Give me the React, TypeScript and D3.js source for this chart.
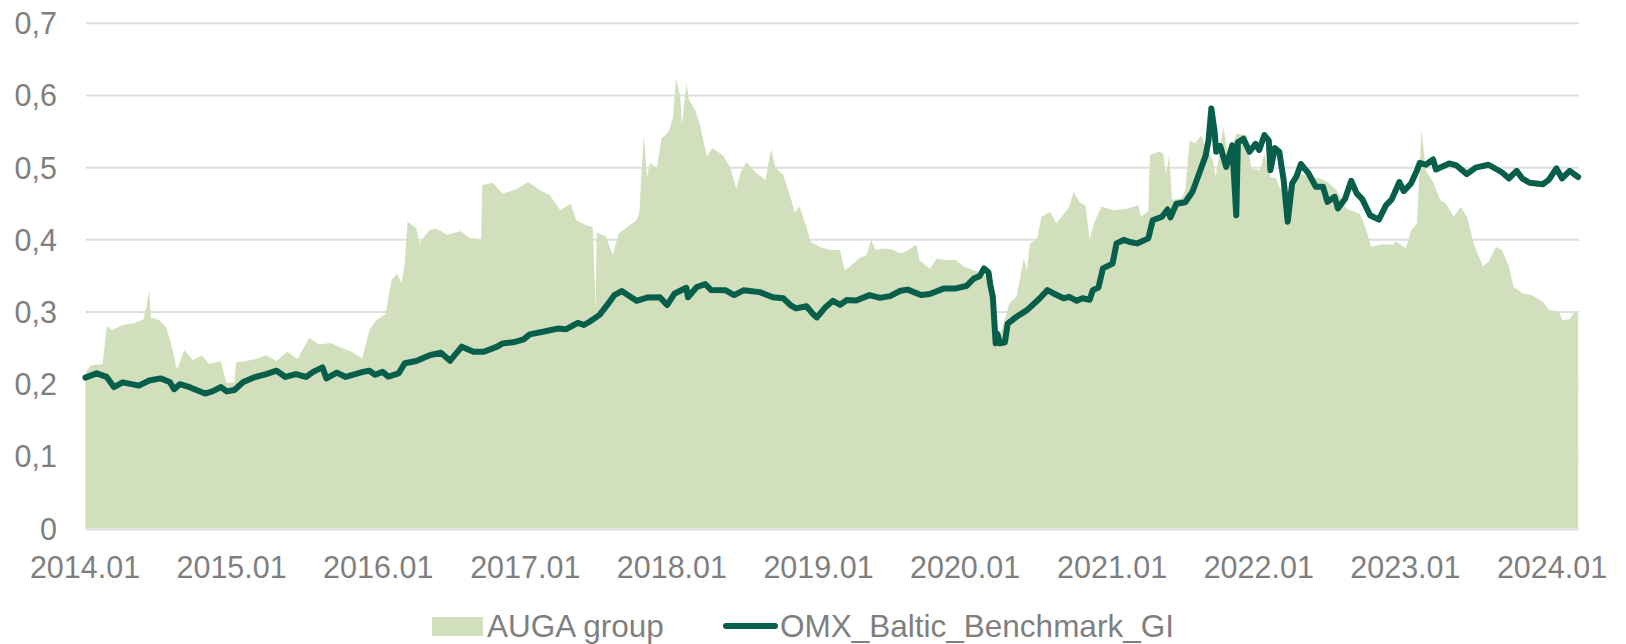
import React, { useEffect, useRef } from 'react'
import * as d3 from 'd3'

// AUGA group share price (area)
const augaDates = [
  '2014-01-02', '2014-01-15', '2014-02-14', '2014-02-24', '2014-03-10', '2014-04-05', '2014-05-01', '2014-05-27',
  '2014-06-10', '2014-06-14', '2014-07-05', '2014-07-23', '2014-08-07', '2014-08-18', '2014-09-05', '2014-09-27',
  '2014-10-19', '2014-11-06', '2014-12-05', '2014-12-19', '2015-01-08', '2015-01-12', '2015-02-06', '2015-03-03',
  '2015-03-28', '2015-04-23', '2015-05-19', '2015-06-14', '2015-07-13', '2015-08-07', '2015-09-06', '2015-10-02',
  '2015-10-27', '2015-11-22', '2015-12-10', '2015-12-28', '2016-01-19', '2016-02-03', '2016-02-17', '2016-02-28',
  '2016-03-07', '2016-03-14', '2016-04-05', '2016-04-12', '2016-05-08', '2016-05-26', '2016-06-21', '2016-07-24',
  '2016-08-15', '2016-09-13', '2016-09-16', '2016-10-12', '2016-11-06', '2016-12-09', '2017-01-08', '2017-02-06',
  '2017-03-03', '2017-03-29', '2017-04-24', '2017-05-08', '2017-06-03', '2017-06-18', '2017-06-25', '2017-06-28',
  '2017-07-20', '2017-08-07', '2017-08-22', '2017-09-13', '2017-10-05', '2017-10-12', '2017-10-16', '2017-10-23',
  '2017-10-31', '2017-11-07', '2017-11-25', '2017-12-06', '2017-12-24', '2018-01-04', '2018-01-11', '2018-01-22',
  '2018-01-26', '2018-02-06', '2018-02-13', '2018-02-28', '2018-03-11', '2018-03-29', '2018-04-12', '2018-05-08',
  '2018-05-26', '2018-06-10', '2018-06-21', '2018-07-05', '2018-07-31', '2018-08-22', '2018-09-05', '2018-09-16',
  '2018-10-05', '2018-10-23', '2018-11-03', '2018-11-14', '2018-12-02', '2018-12-13', '2019-01-04', '2019-01-30',
  '2019-02-24', '2019-03-07', '2019-03-18', '2019-04-12', '2019-05-01', '2019-05-12', '2019-05-23', '2019-06-10',
  '2019-07-02', '2019-07-24', '2019-08-07', '2019-09-02', '2019-09-09', '2019-10-05', '2019-10-23', '2019-11-14',
  '2019-12-09', '2019-12-28', '2020-01-23', '2020-02-06', '2020-02-24', '2020-03-10', '2020-03-17', '2020-03-28',
  '2020-04-12', '2020-04-20', '2020-05-08', '2020-05-26', '2020-06-03', '2020-06-10', '2020-06-28', '2020-07-09',
  '2020-07-31', '2020-08-15', '2020-09-02', '2020-09-16', '2020-09-27', '2020-10-12', '2020-10-27', '2020-11-06',
  '2020-11-17', '2020-12-05', '2021-01-04', '2021-02-06', '2021-03-07', '2021-03-14', '2021-04-01', '2021-04-05',
  '2021-04-27', '2021-05-08', '2021-05-15', '2021-05-23', '2021-05-30', '2021-06-24', '2021-07-02', '2021-07-13',
  '2021-07-27', '2021-08-11', '2021-08-22', '2021-09-09', '2021-09-16', '2021-10-05', '2021-10-16', '2021-11-07',
  '2021-12-02', '2021-12-13', '2022-01-04', '2022-01-15', '2022-01-30', '2022-02-14', '2022-02-21', '2022-03-11',
  '2022-03-29', '2022-04-12', '2022-05-08', '2022-06-03', '2022-06-21', '2022-07-13', '2022-08-07', '2022-09-09',
  '2022-09-23', '2022-10-08', '2022-11-06', '2022-12-02', '2022-12-09', '2023-01-02', '2023-01-15', '2023-01-30',
  '2023-02-10', '2023-02-21', '2023-03-11', '2023-03-29', '2023-04-12', '2023-05-01', '2023-05-19', '2023-06-03',
  '2023-06-21', '2023-07-13', '2023-07-27', '2023-08-15', '2023-08-29', '2023-09-16', '2023-09-27', '2023-10-19',
  '2023-11-14', '2023-12-09', '2023-12-24', '2024-01-19', '2024-01-26', '2024-02-14', '2024-02-24', '2024-03-06'
]
const augaValues = [
  0.215, 0.226, 0.228, 0.28, 0.275, 0.282, 0.284, 0.29,
  0.328, 0.292, 0.289, 0.278, 0.247, 0.22, 0.247, 0.233,
  0.24, 0.228, 0.232, 0.202, 0.202, 0.23, 0.232, 0.235,
  0.24, 0.232, 0.245, 0.235, 0.264, 0.255, 0.257, 0.25,
  0.245, 0.236, 0.275, 0.289, 0.297, 0.344, 0.353, 0.34,
  0.367, 0.425, 0.416, 0.395, 0.414, 0.415, 0.407, 0.412,
  0.403, 0.4, 0.476, 0.479, 0.464, 0.47, 0.48, 0.469,
  0.462, 0.441, 0.45, 0.427, 0.42, 0.418, 0.307, 0.41,
  0.405, 0.379, 0.409, 0.418, 0.427, 0.437, 0.478, 0.545,
  0.487, 0.506, 0.5, 0.54, 0.55, 0.57, 0.6235, 0.598,
  0.559, 0.617, 0.5935, 0.58, 0.561, 0.515, 0.527, 0.517,
  0.501, 0.471, 0.493, 0.508, 0.492, 0.483, 0.525, 0.5,
  0.49, 0.46, 0.437, 0.4465, 0.418, 0.397, 0.39, 0.386,
  0.386, 0.358, 0.362, 0.374, 0.379, 0.4, 0.386, 0.388,
  0.387, 0.381, 0.384, 0.393, 0.372, 0.36, 0.374, 0.372,
  0.372, 0.363, 0.358, 0.355, 0.35, 0.32, 0.265, 0.27,
  0.295, 0.312, 0.321, 0.3745, 0.358, 0.395, 0.4, 0.432,
  0.439, 0.423, 0.435, 0.446, 0.4665, 0.452, 0.447, 0.4,
  0.423, 0.446, 0.441, 0.443, 0.448, 0.432, 0.44, 0.517,
  0.522, 0.52, 0.49, 0.517, 0.455, 0.458, 0.469, 0.538,
  0.5335, 0.545, 0.528, 0.51, 0.487, 0.5565, 0.52, 0.5474,
  0.545, 0.499, 0.4965, 0.52, 0.487, 0.485, 0.473, 0.464,
  0.478, 0.492, 0.487, 0.485, 0.48, 0.469, 0.4435, 0.436,
  0.418, 0.39, 0.394, 0.393, 0.398, 0.388, 0.413, 0.423,
  0.552, 0.4965, 0.48, 0.455, 0.45, 0.432, 0.4457, 0.432,
  0.393, 0.363, 0.37, 0.39, 0.386, 0.363, 0.335, 0.326,
  0.323, 0.314, 0.303, 0.3, 0.289, 0.29, 0.299, 0.299
]

// OMX Baltic Benchmark GI (line)
const omxDates = [
  '2014-01-02', '2014-01-30', '2014-02-24', '2014-03-14', '2014-04-05', '2014-05-15', '2014-06-10', '2014-07-08',
  '2014-07-31', '2014-08-11', '2014-08-25', '2014-09-20', '2014-10-27', '2014-11-14', '2014-12-05', '2014-12-20',
  '2015-01-08', '2015-01-30', '2015-02-24', '2015-03-28', '2015-04-23', '2015-05-15', '2015-06-10', '2015-07-05',
  '2015-07-23', '2015-08-15', '2015-08-25', '2015-09-20', '2015-10-12', '2015-11-24', '2015-12-10', '2015-12-24',
  '2016-01-12', '2016-01-26', '2016-02-21', '2016-03-07', '2016-04-05', '2016-05-08', '2016-06-05', '2016-06-28',
  '2016-07-27', '2016-08-25', '2016-09-20', '2016-10-23', '2016-11-06', '2016-12-02', '2016-12-28', '2017-01-12',
  '2017-02-14', '2017-03-22', '2017-04-12', '2017-05-12', '2017-05-27', '2017-06-10', '2017-07-05', '2017-07-27',
  '2017-08-11', '2017-08-29', '2017-10-05', '2017-10-31', '2017-12-02', '2017-12-20', '2018-01-08', '2018-02-06',
  '2018-02-10', '2018-03-04', '2018-03-25', '2018-04-09', '2018-05-15', '2018-06-05', '2018-06-28', '2018-08-08',
  '2018-09-09', '2018-10-05', '2018-10-23', '2018-11-06', '2018-12-02', '2018-12-17', '2018-12-28', '2019-01-19',
  '2019-02-06', '2019-02-24', '2019-03-12', '2019-04-05', '2019-05-08', '2019-06-03', '2019-06-28', '2019-07-24',
  '2019-08-11', '2019-09-13', '2019-10-05', '2019-11-10', '2019-12-09', '2020-01-04', '2020-01-23', '2020-02-06',
  '2020-02-17', '2020-02-28', '2020-03-04', '2020-03-10', '2020-03-17', '2020-03-21', '2020-03-28', '2020-04-09',
  '2020-04-16', '2020-05-08', '2020-06-03', '2020-06-17', '2020-07-05', '2020-07-24', '2020-08-07', '2020-09-02',
  '2020-09-16', '2020-10-05', '2020-10-19', '2020-11-06', '2020-11-14', '2020-11-28', '2020-12-09', '2021-01-02',
  '2021-01-12', '2021-01-30', '2021-02-14', '2021-03-04', '2021-04-01', '2021-04-12', '2021-05-05', '2021-05-19',
  '2021-05-26', '2021-06-10', '2021-07-02', '2021-07-20', '2021-08-07', '2021-08-22', '2021-08-29', '2021-09-05',
  '2021-09-13', '2021-09-17', '2021-09-27', '2021-10-12', '2021-10-27', '2021-11-06', '2021-11-10', '2021-11-24',
  '2021-12-09', '2021-12-24', '2022-01-02', '2022-01-15', '2022-01-26', '2022-01-30', '2022-02-10', '2022-02-21',
  '2022-03-04', '2022-03-14', '2022-03-25', '2022-04-05', '2022-04-16', '2022-05-05', '2022-05-23', '2022-06-10',
  '2022-06-21', '2022-07-09', '2022-07-17', '2022-08-04', '2022-08-19', '2022-09-02', '2022-09-16', '2022-10-05',
  '2022-10-27', '2022-11-14', '2022-11-28', '2022-12-17', '2022-12-28', '2023-01-15', '2023-01-30', '2023-02-06',
  '2023-02-21', '2023-03-11', '2023-03-18', '2023-04-20', '2023-05-08', '2023-06-03', '2023-06-25', '2023-07-27',
  '2023-08-29', '2023-09-16', '2023-10-05', '2023-10-19', '2023-11-06', '2023-12-09', '2023-12-24', '2024-01-12',
  '2024-01-26', '2024-02-14', '2024-03-06'
]
const omxValues = [
  0.209, 0.215, 0.21, 0.196, 0.2025, 0.198, 0.205, 0.208,
  0.203, 0.193, 0.2, 0.1955, 0.187, 0.19, 0.196, 0.19,
  0.192, 0.203, 0.209, 0.214, 0.2186, 0.21, 0.214, 0.21,
  0.217, 0.2233, 0.208, 0.216, 0.21, 0.217, 0.2185, 0.213,
  0.217, 0.2105, 0.215, 0.229, 0.232, 0.24, 0.2435, 0.2325,
  0.252, 0.245, 0.245, 0.252, 0.2565, 0.258, 0.262, 0.269,
  0.2726, 0.277, 0.276, 0.285, 0.282, 0.2865, 0.296, 0.312,
  0.3234, 0.329, 0.3155, 0.32, 0.3205, 0.3096, 0.3257, 0.3335,
  0.3205, 0.3346, 0.3386, 0.3303, 0.33, 0.3234, 0.33, 0.3275,
  0.3205, 0.319, 0.3096, 0.305, 0.308, 0.298, 0.2925, 0.307,
  0.3155, 0.31, 0.3165, 0.316, 0.3234, 0.3196, 0.322, 0.3294,
  0.331, 0.3234, 0.325, 0.3327, 0.3327, 0.336, 0.3465, 0.3497,
  0.3604, 0.355, 0.337, 0.321, 0.2565, 0.27, 0.2565, 0.258,
  0.284, 0.2934, 0.3026, 0.3096, 0.319, 0.3303, 0.326, 0.319,
  0.321, 0.3155, 0.319, 0.317, 0.3303, 0.334, 0.3604, 0.367,
  0.395, 0.4, 0.397, 0.395, 0.402, 0.427, 0.432, 0.442,
  0.431, 0.45, 0.452, 0.4665, 0.494, 0.517, 0.538, 0.582,
  0.55, 0.522, 0.53, 0.501, 0.531, 0.434, 0.535, 0.54,
  0.522, 0.533, 0.5245, 0.545, 0.5375, 0.4965, 0.527, 0.522,
  0.4827, 0.425, 0.478, 0.488, 0.505, 0.492, 0.4734, 0.4734,
  0.4526, 0.4596, 0.4435, 0.457, 0.4817, 0.4643, 0.456, 0.434,
  0.428, 0.448, 0.456, 0.48, 0.4675, 0.478, 0.4965, 0.5066,
  0.504, 0.5113, 0.4974, 0.5058, 0.503, 0.491, 0.5, 0.504,
  0.4936, 0.485, 0.4955, 0.485, 0.479, 0.477, 0.483, 0.499,
  0.485, 0.4955, 0.487
]

const yTicks = [0, 0.1, 0.2, 0.3, 0.4, 0.5, 0.6, 0.7]
const yTickLabels = ['0', '0,1', '0,2', '0,3', '0,4', '0,5', '0,6', '0,7']
const xTickDates = [
  '2014-01-01', '2015-01-01', '2016-01-01', '2017-01-01', '2018-01-01', '2019-01-01',
  '2020-01-01', '2021-01-01', '2022-01-01', '2023-01-01', '2024-01-01'
]
const xTickLabels = [
  '2014.01', '2015.01', '2016.01', '2017.01', '2018.01', '2019.01',
  '2020.01', '2021.01', '2022.01', '2023.01', '2024.01'
]
const seriesNames = ['AUGA group', 'OMX_Baltic_Benchmark_GI']

const width = 1626
const height = 644
const areaColor = '#d1dfbc'
const lineColor = '#075e4b'
const textColor = '#7f7f7f'
const gridColor = '#dedede'
const font = '"Liberation Sans", Arial, sans-serif'

function Chart() {
  const ref = useRef<SVGSVGElement>(null)

  useEffect(() => {
    const svg = d3.select(ref.current)
    svg.selectAll('*').remove()

    const parse = d3.timeParse('%Y-%m-%d')
    const auga = augaDates.map((d, i) => ({ date: parse(d) as Date, v: augaValues[i] }))
    const omx = omxDates.map((d, i) => ({ date: parse(d) as Date, v: omxValues[i] }))

    const plotLeft = 86
    const plotRight = 1579

    const x = d3
      .scaleTime()
      .domain([parse('2014-01-01') as Date, parse('2024-01-01') as Date])
      .range([85, 1552])
    const y = d3.scaleLinear().domain([0, 0.7]).range([528.5, 23.3])

    // gridlines
    svg
      .append('g')
      .selectAll('line')
      .data(yTicks.slice(1))
      .enter()
      .append('line')
      .attr('x1', plotLeft)
      .attr('x2', plotRight)
      .attr('y1', d => y(d))
      .attr('y2', d => y(d))
      .attr('stroke', gridColor)
      .attr('stroke-width', 2)

    const area = d3
      .area<{ date: Date; v: number }>()
      .x(d => x(d.date))
      .y0(y(0))
      .y1(d => y(d.v))

    svg.append('path').datum(auga).attr('d', area).attr('fill', areaColor)

    // baseline
    svg
      .append('line')
      .attr('x1', plotLeft)
      .attr('x2', plotRight)
      .attr('y1', y(0) + 1)
      .attr('y2', y(0) + 1)
      .attr('stroke', gridColor)
      .attr('stroke-width', 2)

    const line = d3
      .line<{ date: Date; v: number }>()
      .x(d => x(d.date))
      .y(d => y(d.v))

    svg
      .append('path')
      .datum(omx)
      .attr('d', line)
      .attr('fill', 'none')
      .attr('stroke', lineColor)
      .attr('stroke-width', 6)
      .attr('stroke-linejoin', 'round')
      .attr('stroke-linecap', 'round')

    // y labels
    svg
      .append('g')
      .selectAll('text')
      .data(yTicks)
      .enter()
      .append('text')
      .attr('x', 57)
      .attr('y', d => y(d) + 11)
      .attr('text-anchor', 'end')
      .attr('font-family', font)
      .attr('font-size', 30.5)
      .attr('fill', textColor)
      .text((d, i) => yTickLabels[i])

    // x labels
    svg
      .append('g')
      .selectAll('text')
      .data(xTickDates)
      .enter()
      .append('text')
      .attr('x', d => x(parse(d) as Date))
      .attr('y', 578)
      .attr('text-anchor', 'middle')
      .attr('font-family', font)
      .attr('font-size', 30.5)
      .attr('fill', textColor)
      .text((d, i) => xTickLabels[i])

    // legend
    const legend = svg.append('g')
    legend
      .append('rect')
      .attr('x', 432)
      .attr('y', 617)
      .attr('width', 51)
      .attr('height', 19)
      .attr('fill', areaColor)
    legend
      .append('text')
      .attr('x', 487)
      .attr('y', 637)
      .attr('font-family', font)
      .attr('font-size', 31.5)
      .attr('fill', textColor)
      .text(seriesNames[0])
    legend
      .append('line')
      .attr('x1', 726)
      .attr('x2', 775)
      .attr('y1', 626)
      .attr('y2', 626)
      .attr('stroke', lineColor)
      .attr('stroke-width', 6)
      .attr('stroke-linecap', 'round')
    legend
      .append('text')
      .attr('x', 780)
      .attr('y', 637)
      .attr('font-family', font)
      .attr('font-size', 31.5)
      .attr('fill', textColor)
      .text(seriesNames[1])
  }, [])

  return <svg ref={ref} width={width} height={height} style={{ display: 'block' }} />
}

export default function App() {
  return (
    <div style={{ position: 'absolute', left: 0, top: 0, width, height, background: '#fff' }}>
      <Chart />
    </div>
  )
}
